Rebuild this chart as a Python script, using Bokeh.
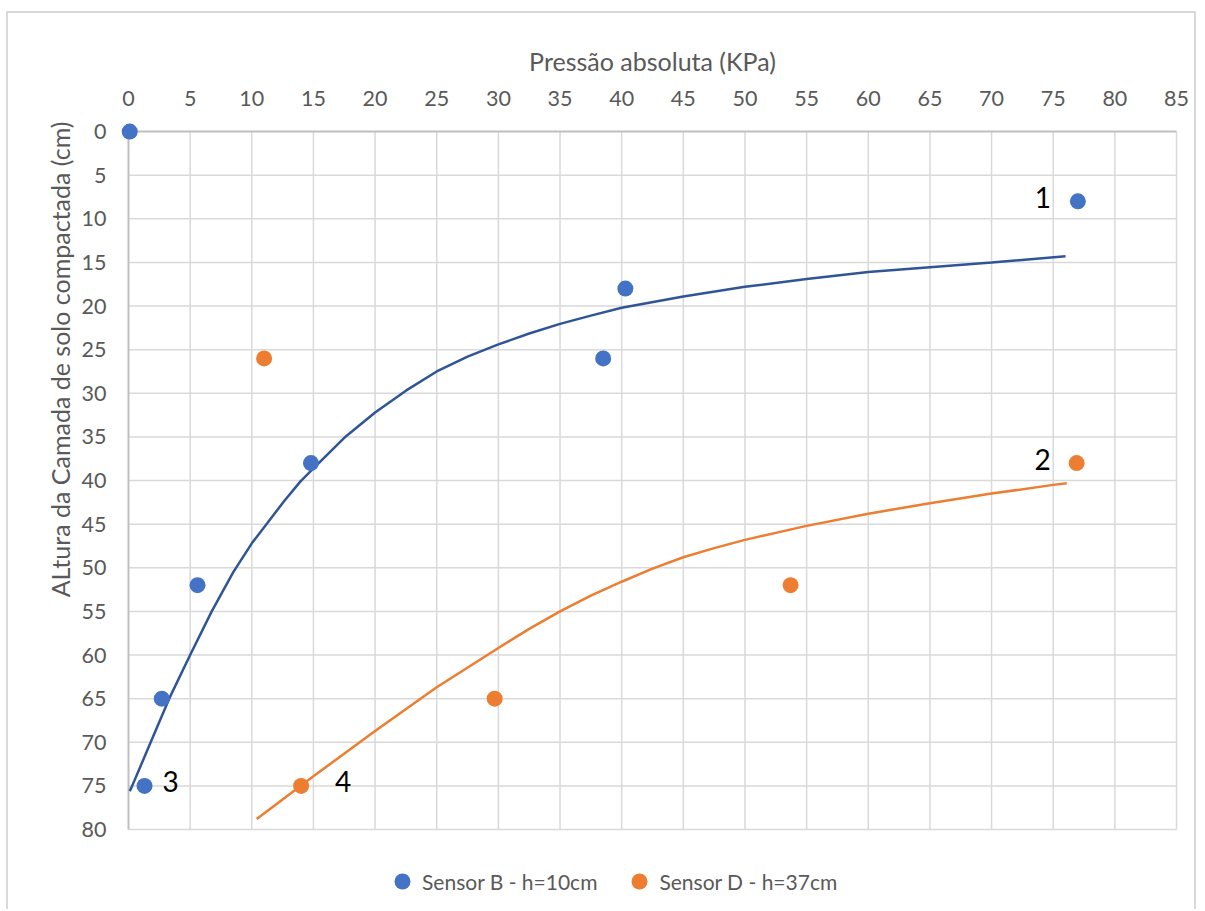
from bokeh.plotting import figure
from bokeh.models import (Range1d, FixedTicker, Legend, LegendItem, Title,
                          ColumnDataSource)
from bokeh.core.properties import value
from bokeh.embed import file_html
from bokeh.resources import INLINE

# Measured points: absolute pressure (kPa) vs. compacted soil layer height (cm)
sensor_b_kpa = [0.1, 1.3, 2.7, 5.6, 14.8, 38.5, 40.3, 77.0]
sensor_b_cm = [0, 75, 65, 52, 38, 26, 18, 8]

sensor_d_kpa = [11.0, 14.0, 29.7, 53.7, 76.9]
sensor_d_cm = [26, 75, 65, 52, 38]

# Trend curves drawn over each series
curve_b_kpa = [0.1, 0.3, 1.8, 3.3, 5.0, 6.75, 8.5, 10.0, 11.25, 12.6, 13.95,
               15.0, 17.5, 20.0, 22.5, 25.0, 27.5, 30.0, 32.5, 35.0, 37.5,
               40.0, 45.0, 50.0, 55.0, 60.0, 65.0, 70.0, 76.0]
curve_b_cm = [75.6, 75.0, 70.0, 65.0, 60.0, 55.0, 50.5, 47.2, 44.9, 42.4, 40.1,
              38.6, 35.1, 32.2, 29.7, 27.5, 25.8, 24.4, 23.15, 22.05, 21.1,
              20.2, 18.9, 17.8, 16.9, 16.1, 15.55, 15.0, 14.3]

curve_d_kpa = [10.4, 13.95, 15.0, 20.0, 25.0, 30.0, 32.5, 35.0, 37.5, 40.0,
               42.5, 45.0, 47.5, 50.0, 55.0, 60.0, 65.0, 70.0, 75.0, 76.1]
curve_d_cm = [78.8, 75.0, 73.9, 68.7, 63.7, 59.2, 57.0, 55.0, 53.2, 51.6,
              50.1, 48.8, 47.75, 46.8, 45.2, 43.8, 42.6, 41.5, 40.5, 40.3]

x_ticks = list(range(0, 90, 5))
y_ticks = list(range(0, 85, 5))
X_MAX, Y_MAX = 85, 80

FONT = "Lato"
TEXT_GRAY = "#595959"
GRID = "#d9d9d9"
AXIS = "#bfbfbf"
BLUE = "#4472C4"
BLUE_LINE = "#2F5597"
ORANGE = "#ED7D31"

# The plotting frame reaches a bit past the axes (so markers on the axes are
# not cut) and down into the legend strip below the grid.
PAD_X, PAD_Y = 0.81, 1.15
Y_BOTTOM = 88.71

p = figure(width=1190, height=898, output_backend="svg", toolbar_location=None,
           x_axis_location="above",
           x_range=Range1d(-PAD_X, X_MAX + PAD_X),
           y_range=Range1d(Y_BOTTOM, -PAD_Y),
           min_border_left=110, min_border_right=12,
           min_border_top=108, min_border_bottom=6,
           background_fill_color="white", border_fill_color="white")
p.margin = (11, 0, 0, 6)
p.styles = {"border-left": "2px solid #d9d9d9",
            "border-top": "2px solid #d9d9d9",
            "border-right": "2px solid #d9d9d9"}
p.outline_line_color = None
p.grid.visible = False

for ax, ticks in ((p.xaxis[0], x_ticks), (p.yaxis[0], y_ticks)):
    ax.ticker = FixedTicker(ticks=ticks)
    ax.major_tick_line_color = None
    ax.minor_tick_line_color = None
    ax.major_tick_out = 0
    ax.major_tick_in = 0
    ax.minor_tick_out = 0
    ax.axis_line_color = None
    ax.major_label_text_font = FONT
    ax.major_label_text_font_size = "21.5px"
    ax.major_label_text_color = TEXT_GRAY
    ax.axis_label_text_font = FONT
    ax.axis_label_text_font_size = "25px"
    ax.axis_label_text_font_style = "normal"
    ax.axis_label_text_color = TEXT_GRAY

p.xaxis.axis_label = "Pressão absoluta (KPa)"
p.xaxis.major_label_standoff = 16
p.xaxis.axis_label_standoff = 12
p.yaxis.major_label_standoff = 12

p.add_layout(Title(text="ALtura da Camada de solo compactada (cm)",
                   align="right", offset=0, standoff=8,
                   text_font=FONT, text_font_size="25px",
                   text_font_style="normal", text_color=TEXT_GRAY), "left")

# Gridlines and axis lines spanning the data extent
vx = [t for t in x_ticks if t > 0]
hy = [t for t in y_ticks if t > 0]
p.segment(x0=vx, x1=vx, y0=[0] * len(vx), y1=[Y_MAX] * len(vx),
          line_color=GRID, line_width=1.5)
p.segment(x0=[0] * len(hy), x1=[X_MAX] * len(hy), y0=hy, y1=hy,
          line_color=GRID, line_width=1.5)
p.segment(x0=[0, 0], x1=[0, X_MAX], y0=[0, 0], y1=[Y_MAX, 0],
          line_color=AXIS, line_width=2)

# Trend curves
p.line(curve_b_kpa, curve_b_cm, line_color=BLUE_LINE, line_width=2.5)
p.line(curve_d_kpa, curve_d_cm, line_color=ORANGE, line_width=2.5)

# Measured points
rb = p.scatter(sensor_b_kpa, sensor_b_cm, size=16, fill_color=BLUE, line_color=None)
ro = p.scatter(sensor_d_kpa, sensor_d_cm, size=16, fill_color=ORANGE, line_color=None)

# Numbered callouts next to selected points
callouts = ColumnDataSource(dict(
    x=[sensor_b_kpa[-1], sensor_d_kpa[-1], sensor_b_kpa[1], sensor_d_kpa[1]],
    y=[sensor_b_cm[-1], sensor_d_cm[-1], sensor_b_cm[1], sensor_d_cm[1]],
    text=["1", "2", "3", "4"],
    dx=[-35, -34, 26, 42],
    dy=[-4, -4, -4, -4],
))
p.text(x="x", y="y", text="text", x_offset="dx", y_offset="dy", source=callouts,
       text_font=value(FONT), text_font_size=value("28px"), text_color="black",
       text_align="center", text_baseline="middle")

legend = Legend(items=[LegendItem(label="Sensor B - h=10cm", renderers=[rb]),
                       LegendItem(label="Sensor D - h=37cm", renderers=[ro])],
                orientation="horizontal", location=(264, 4),
                glyph_width=40, glyph_height=40, label_standoff=0, spacing=22,
                padding=0, margin=0, border_line_color=None,
                background_fill_alpha=0,
                label_text_font=FONT, label_text_font_size="21px",
                label_text_color=TEXT_GRAY)
p.add_layout(legend, "center")

open("out.html", "w").write(file_html(p, INLINE))
